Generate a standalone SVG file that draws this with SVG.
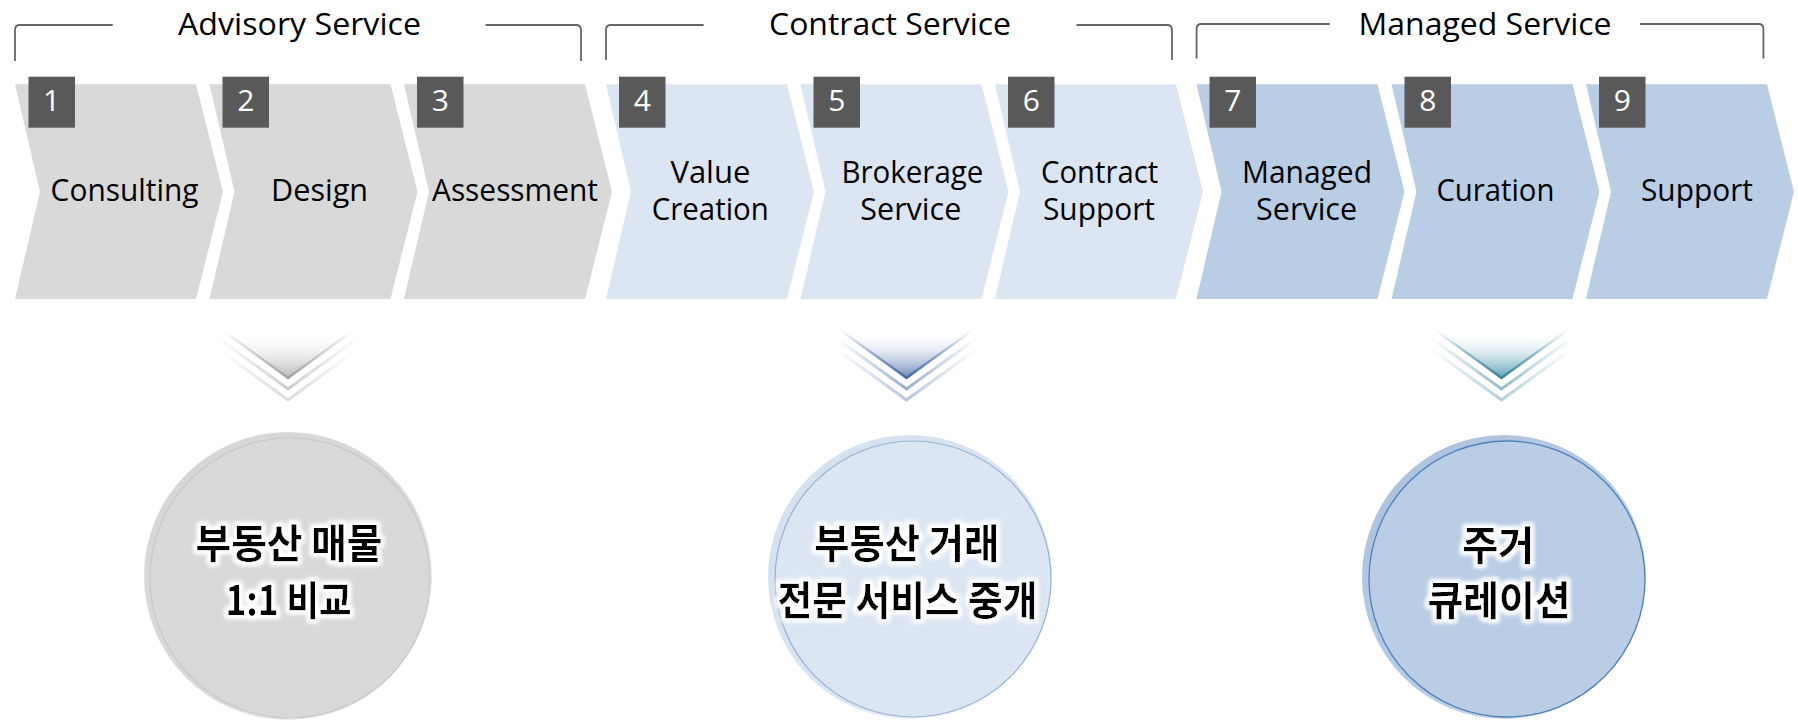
<svg xmlns="http://www.w3.org/2000/svg" width="1798" height="721" viewBox="0 0 1798 721">
<defs>
<style>
.bk{fill:none;stroke:#666;stroke-width:1.8}
.ttl{font-family:"Open Sans","Noto Sans",sans-serif;font-size:31px;fill:#000;text-anchor:middle}
.lbl{font-family:"Open Sans","Noto Sans",sans-serif;font-size:30.5px;fill:#000;text-anchor:middle}
.num{font-family:"Open Sans","Noto Sans",sans-serif;font-size:30px;fill:#fff;text-anchor:middle}
.nb{fill:#595959}
.cg{fill:#d9d9d9}
.cl{fill:#dce6f2}
.cb{fill:#b9cde5}
.kr{font-family:"Noto Sans CJK KR","Noto Sans",sans-serif;font-weight:700;font-size:40px;fill:#000;text-anchor:middle}
</style>
<filter id="glow" x="-15%" y="-40%" width="130%" height="180%">
<feMorphology in="SourceAlpha" operator="dilate" radius="2.5" result="d"/>
<feGaussianBlur in="d" stdDeviation="2.2" result="b"/>
<feFlood flood-color="#ffffff"/>
<feComposite in2="b" operator="in" result="w"/>
<feMerge><feMergeNode in="w"/><feMergeNode in="w"/><feMergeNode in="SourceGraphic"/></feMerge>
</filter>
<linearGradient id="fGray" x1="0" y1="0" x2="1" y2="0">
<stop offset="0" stop-color="#9a9a9a" stop-opacity="0"/><stop offset="0.5" stop-color="#9a9a9a" stop-opacity="0.9"/><stop offset="1" stop-color="#9a9a9a" stop-opacity="0"/>
</linearGradient>
<linearGradient id="fBlue" x1="0" y1="0" x2="1" y2="0">
<stop offset="0" stop-color="#3f64a3" stop-opacity="0"/><stop offset="0.5" stop-color="#3f64a3" stop-opacity="0.95"/><stop offset="1" stop-color="#3f64a3" stop-opacity="0"/>
</linearGradient>
<linearGradient id="fTeal" x1="0" y1="0" x2="1" y2="0">
<stop offset="0" stop-color="#2f8198" stop-opacity="0"/><stop offset="0.5" stop-color="#2f8198" stop-opacity="0.95"/><stop offset="1" stop-color="#2f8198" stop-opacity="0"/>
</linearGradient>
<linearGradient id="tGray" x1="0" y1="0" x2="0" y2="1">
<stop offset="0" stop-color="#ffffff" stop-opacity="0"/><stop offset="1" stop-color="#b8b8b8"/>
</linearGradient>
<linearGradient id="tBlue" x1="0" y1="0" x2="0" y2="1">
<stop offset="0" stop-color="#ffffff" stop-opacity="0"/><stop offset="1" stop-color="#6a87bb"/>
</linearGradient>
<linearGradient id="tTeal" x1="0" y1="0" x2="0" y2="1">
<stop offset="0" stop-color="#ffffff" stop-opacity="0"/><stop offset="1" stop-color="#5aa0b3"/>
</linearGradient>
<linearGradient id="rGray" x1="0" y1="0" x2="1" y2="1">
<stop offset="0" stop-color="#d6d6d6"/><stop offset="0.6" stop-color="#dadada"/><stop offset="1" stop-color="#ffffff"/>
</linearGradient>
<linearGradient id="rLight" x1="0" y1="0" x2="1" y2="1">
<stop offset="0" stop-color="#d4e0ee"/><stop offset="0.6" stop-color="#dce6f2"/><stop offset="1" stop-color="#ffffff"/>
</linearGradient>
<linearGradient id="rBlue" x1="0" y1="0" x2="1" y2="1">
<stop offset="0" stop-color="#a9c0de"/><stop offset="0.6" stop-color="#b9cde5"/><stop offset="1" stop-color="#e6eef8"/>
</linearGradient>
</defs>
<rect width="1798" height="721" fill="#ffffff"/>

<g id="group-advisory">
<path class="bk" d="M15,61 V30 Q15,25 20,25 H112.7 M485.6,25 H576 Q581,25 581,30 V61"/>
<text class="ttl" x="299.5" y="34.5" textLength="243" lengthAdjust="spacingAndGlyphs">Advisory Service</text>
</g>
<g id="group-contract">
<path class="bk" d="M606,60 V30 Q606,25 611,25 H703.6 M1076.5,25 H1167 Q1172,25 1172,30 V60"/>
<text class="ttl" x="890" y="34.5" textLength="242" lengthAdjust="spacingAndGlyphs">Contract Service</text>
</g>
<g id="group-managed">
<path class="bk" d="M1196.6,58.5 V29 Q1196.6,24 1201.6,24 H1329.8 M1640,24 H1758.4 Q1763.4,24 1763.4,29 V58.5"/>
<text class="ttl" x="1485" y="34.5" textLength="253" lengthAdjust="spacingAndGlyphs">Managed Service</text>
</g>

<g id="step-1">
<polygon class="cg" points="15,84.3 196,84.3 223,191.7 196,299 15,299 40,191.7"/>
<rect class="nb" x="28.5" y="76.7" width="46.5" height="51"/>
<text class="num" x="51.5" y="110.7">1</text>
<text class="lbl" x="124.6" y="200.5" textLength="148" lengthAdjust="spacingAndGlyphs">Consulting</text>
</g>
<g id="step-2">
<polygon class="cg" points="209.5,84.3 390.5,84.3 417.5,191.7 390.5,299 209.5,299 234.5,191.7"/>
<rect class="nb" x="222.5" y="76.7" width="46.5" height="51"/>
<text class="num" x="245.8" y="110.7">2</text>
<text class="lbl" x="319.6" y="200.5" textLength="97" lengthAdjust="spacingAndGlyphs">Design</text>
</g>
<g id="step-3">
<polygon class="cg" points="404,84.3 585,84.3 612,191.7 585,299 404,299 429,191.7"/>
<rect class="nb" x="417" y="76.7" width="46.5" height="51"/>
<text class="num" x="440.3" y="110.7">3</text>
<text class="lbl" x="515" y="200.5" textLength="166" lengthAdjust="spacingAndGlyphs">Assessment</text>
</g>
<g id="step-4">
<polygon class="cl" points="606,84.3 787,84.3 814,191.7 787,299 606,299 631,191.7"/>
<rect class="nb" x="619" y="76.7" width="46.5" height="51"/>
<text class="num" x="642.3" y="110.7">4</text>
<text class="lbl"><tspan x="710.4" y="183" textLength="80" lengthAdjust="spacingAndGlyphs">Value</tspan><tspan x="710.3" y="219.5" textLength="117" lengthAdjust="spacingAndGlyphs">Creation</tspan></text>
</g>
<g id="step-5">
<polygon class="cl" points="800.5,84.3 981.5,84.3 1008.5,191.7 981.5,299 800.5,299 825.5,191.7"/>
<rect class="nb" x="813.5" y="76.7" width="46.5" height="51"/>
<text class="num" x="836.8" y="110.7">5</text>
<text class="lbl"><tspan x="912.4" y="183" textLength="142" lengthAdjust="spacingAndGlyphs">Brokerage</tspan><tspan x="910.8" y="219.5" textLength="101" lengthAdjust="spacingAndGlyphs">Service</tspan></text>
</g>
<g id="step-6">
<polygon class="cl" points="995,84.3 1176,84.3 1203,191.7 1176,299 995,299 1020,191.7"/>
<rect class="nb" x="1008" y="76.7" width="46.5" height="51"/>
<text class="num" x="1031.3" y="110.7">6</text>
<text class="lbl"><tspan x="1099.6" y="183" textLength="117" lengthAdjust="spacingAndGlyphs">Contract</tspan><tspan x="1099" y="219.5" textLength="112" lengthAdjust="spacingAndGlyphs">Support</tspan></text>
</g>
<g id="step-7">
<polygon class="cb" points="1196.5,84.3 1377.5,84.3 1404.5,191.7 1377.5,299 1196.5,299 1221.5,191.7"/>
<rect class="nb" x="1209.5" y="76.7" width="46.5" height="51"/>
<text class="num" x="1232.8" y="110.7">7</text>
<text class="lbl"><tspan x="1307" y="183" textLength="130" lengthAdjust="spacingAndGlyphs">Managed</tspan><tspan x="1306.6" y="219.5" textLength="101" lengthAdjust="spacingAndGlyphs">Service</tspan></text>
</g>
<g id="step-8">
<polygon class="cb" points="1391.5,84.3 1572.5,84.3 1599.5,191.7 1572.5,299 1391.5,299 1416.5,191.7"/>
<rect class="nb" x="1404.5" y="76.7" width="46.5" height="51"/>
<text class="num" x="1427.8" y="110.7">8</text>
<text class="lbl" x="1495.4" y="200.5" textLength="118" lengthAdjust="spacingAndGlyphs">Curation</text>
</g>
<g id="step-9">
<polygon class="cb" points="1586,84.3 1767,84.3 1794,191.7 1767,299 1586,299 1611,191.7"/>
<rect class="nb" x="1599" y="76.7" width="46.5" height="51"/>
<text class="num" x="1622.3" y="110.7">9</text>
<text class="lbl" x="1697" y="200.5" textLength="112" lengthAdjust="spacingAndGlyphs">Support</text>
</g>

<g id="connectors">
<g id="arrow-advisory">
<polygon points="222,330 354,330 288,378" fill="url(#tGray)"/>
<polyline points="222,330 288,378 354,330" fill="none" stroke="url(#fGray)" stroke-width="2.5"/>
<polyline points="218,338 288,389 358,338" fill="none" stroke="url(#fGray)" stroke-width="3" opacity="0.55"/>
<polyline points="218,349 288,400 358,349" fill="none" stroke="url(#fGray)" stroke-width="3" opacity="0.4"/>
</g>
<g id="arrow-contract">
<polygon points="840,330 973,330 906.5,378" fill="url(#tBlue)"/>
<polyline points="840,330 906.5,378 973,330" fill="none" stroke="url(#fBlue)" stroke-width="2.5"/>
<polyline points="836,338 906.5,389 977,338" fill="none" stroke="url(#fBlue)" stroke-width="3" opacity="0.55"/>
<polyline points="836,349 906.5,400 977,349" fill="none" stroke="url(#fBlue)" stroke-width="3" opacity="0.4"/>
</g>
<g id="arrow-managed">
<polygon points="1435,330 1568,330 1501.5,378" fill="url(#tTeal)"/>
<polyline points="1435,330 1501.5,378 1568,330" fill="none" stroke="url(#fTeal)" stroke-width="2.5"/>
<polyline points="1431,338 1501.5,389 1572,338" fill="none" stroke="url(#fTeal)" stroke-width="3" opacity="0.55"/>
<polyline points="1431,349 1501.5,400 1572,349" fill="none" stroke="url(#fTeal)" stroke-width="3" opacity="0.4"/>
</g>
</g>

<g id="result-advisory">
<circle cx="288" cy="576" r="144" fill="url(#rGray)"/>
<circle cx="290" cy="578" r="140" fill="#d9d9d9" stroke="#c8c8c8" stroke-width="1.2"/>
<g filter="url(#glow)">
<text class="kr"><tspan x="289" y="558" textLength="187" lengthAdjust="spacingAndGlyphs">부동산 매물</tspan><tspan x="288.4" y="615" textLength="126" lengthAdjust="spacingAndGlyphs">1:1 비교</tspan></text>
</g>
</g>
<g id="result-contract">
<circle cx="910" cy="577" r="142" fill="url(#rLight)"/>
<circle cx="913" cy="579" r="138" fill="#dce6f2" stroke="#95b3d7" stroke-width="1.2"/>
<g filter="url(#glow)">
<text class="kr"><tspan x="906.7" y="558" textLength="185" lengthAdjust="spacingAndGlyphs">부동산 거래</tspan><tspan x="907.5" y="615" textLength="260" lengthAdjust="spacingAndGlyphs">전문 서비스 중개</tspan></text>
</g>
</g>
<g id="result-managed">
<circle cx="1504" cy="577" r="142" fill="url(#rBlue)"/>
<circle cx="1507" cy="579" r="138" fill="#b9cde5" stroke="#4f81bd" stroke-width="1.3"/>
<g filter="url(#glow)">
<text class="kr"><tspan x="1498.3" y="560" textLength="72" lengthAdjust="spacingAndGlyphs">주거</tspan><tspan x="1499" y="615" textLength="143" lengthAdjust="spacingAndGlyphs">큐레이션</tspan></text>
</g>
</g>
</svg>
